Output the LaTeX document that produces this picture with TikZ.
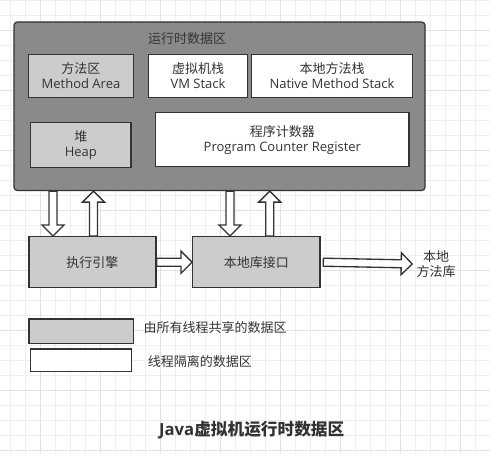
\documentclass[tikz,border=0pt]{standalone}
\usepackage{fontspec}
\setmainfont{Open Sans}
\newfontfamily\cjk{Noto Sans CJK SC}
\usetikzlibrary{calc}
\definecolor{gridminor}{HTML}{EFEFEF}
\definecolor{gridmajor}{HTML}{E2E2E2}
\definecolor{areagray}{HTML}{8A8A8A}
\definecolor{sharedgray}{HTML}{CCCCCC}
\definecolor{edge}{HTML}{333333}
\definecolor{ink}{HTML}{333333}
\newcommand{\blockarrow}[2]{%
    \draw[hollow] let \p1=(#1), \p2=(#2), \n1={veclen(\x2-\x1,\y2-\y1)}, \n2={atan2(\y2-\y1,\x2-\x1)} in
        ($(\p1)+(\n2+90:3pt)$) -- ++(\n2:{\n1*1pt-8.25pt}) -- ++(\n2+90:5.25pt) -- (\p2)
        -- ($(\p1)+(\n2:{\n1*1pt-8.25pt})+(\n2-90:8.25pt)$) -- ++(\n2+90:5.25pt)
        -- ($(\p1)+(\n2-90:3pt)$) -- cycle;}
\begin{document}
\begin{tikzpicture}[x=0.75pt,y=-0.75pt,
        txt/.style={text=ink,font=\fontsize{9.75}{11.25}\selectfont,align=center,inner sep=0pt},
        shared/.style={txt,draw=edge,line width=1pt,fill=sharedgray},
        private/.style={shared,fill=white},
        hollow/.style={draw=edge,line width=1pt,fill=white,line join=miter}]
            \useasboundingbox (0,0) rectangle (490,454);
            \fill[white] (0,0) rectangle (490,454);
            \foreach \gx in {10,25,...,490} \draw[gridminor,line width=0.75pt] (\gx,0)--(\gx,454);
            \foreach \gy in {0,15,...,450} \draw[gridminor,line width=0.75pt] (0,\gy)--(490,\gy);
            \foreach \gx in {40,100,...,460} \draw[gridmajor,line width=0.75pt] (\gx,0)--(\gx,454);
            \foreach \gy in {30,90,...,450} \draw[gridmajor,line width=0.75pt] (0,\gy)--(490,\gy);
            \node[draw=edge,line width=0.9pt,fill=areagray,rounded corners=2.5pt,minimum width=308.25pt,minimum height=126.4pt] (runtime) at (219.5,106.25) {};
            \node[txt] (runtimetitle) at (187,39) {\cjk 运行时数据区};
            \node[shared,minimum width=78.4pt,minimum height=32pt] (method) at (81,76) {{\cjk 方法区}\\Method Area};
            \node[private,minimum width=74pt,minimum height=32pt] (vmstack) at (198,76) {{\cjk 虚拟机栈}\\VM Stack};
            \node[private,minimum width=120.5pt,minimum height=32pt] (nativestack) at (332,76) {{\cjk 本地方法栈}\\Native Method Stack};
            \node[shared,minimum width=75.2pt,minimum height=33.5pt] (heap) at (80.85,145) {{\cjk 堆}\\Heap};
            \node[private,minimum width=190pt,minimum height=40.5pt] (pc) at (282.35,139.7) {{\cjk 程序计数器}\\Program Counter Register};
            \node[shared,minimum width=95.25pt,minimum height=38.25pt] (engine) at (92.5,262.2) {\cjk 执行引擎};
            \node[shared,minimum width=95.5pt,minimum height=38.25pt] (jni) at (256.35,262.2) {\cjk 本地库接口};
            \node[txt,inner sep=3pt] (nativelib) at (436,264) {{\cjk 本地}\\{\cjk 方法库}};
            \coordinate (down1) at (53,0);
            \coordinate (up1) at (93.5,0);
            \coordinate (down2) at (230,0);
            \coordinate (up2) at (269.7,0);
            \blockarrow{runtime.south -| down1}{engine.north -| down1}
            \blockarrow{engine.north -| up1}{runtime.south -| up1}
            \blockarrow{runtime.south -| down2}{jni.north -| down2}
            \blockarrow{jni.north -| up2}{runtime.south -| up2}
            \blockarrow{engine.east}{jni.west}
            \blockarrow{[xshift=2pt]jni.east}{nativelib.west}
            \node[shared,minimum width=78.2pt,minimum height=18.5pt] (sharedkey) at (81.15,331.35) {};
            \node[private,minimum width=75.5pt,minimum height=17pt] (privatekey) at (81,360.35) {};
            \node[txt,anchor=west] (sharedtext) at (143.3,327.3) {\cjk 由所有线程共享的数据区};
            \node[txt,anchor=west] (privatetext) at (147.7,361.7) {\cjk 线程隔离的数据区};
            \node[txt,font=\bfseries\fontsize{12.5}{14}\selectfont] (caption) at (251.7,430) {Java{\cjk 虚拟机运行时数据区}};
        \end{tikzpicture}
\end{document}
